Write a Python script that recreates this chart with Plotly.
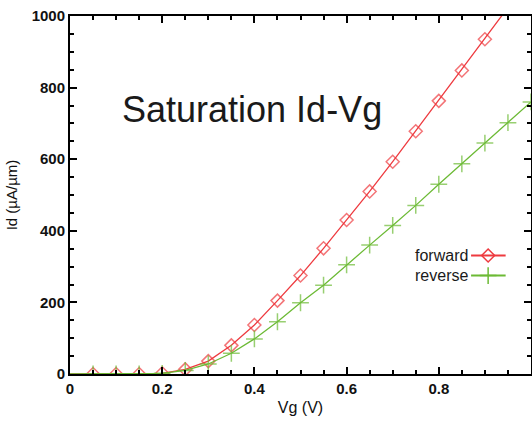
import plotly.graph_objects as go

vg = [0.0, 0.05, 0.10, 0.15, 0.20, 0.25, 0.30, 0.35, 0.40, 0.45, 0.50,
      0.55, 0.60, 0.65, 0.70, 0.75, 0.80, 0.85, 0.90, 0.95, 1.00]
forward = [0, 0, 0, 0, 2, 13, 36, 80, 137, 205, 275, 351, 430, 510, 593,
           678, 763, 848, 935, 1022, 1110]
reverse = [0, 0, 0, 0, 2, 10, 28, 58, 98, 146, 199, 248, 305, 360, 415,
           471, 530, 587, 645, 702, 760]

RED = "#ee3a3f"
GREEN = "#6cba35"
FONT = "Liberation Sans, Arial, sans-serif"

# hide the marker at Vg = 0 (the reference shows only the line there)
red_sizes = [0] + [10] * (len(vg) - 1)
green_sizes = [0] + [12] * (len(vg) - 1)

fig = go.Figure()
fig.add_trace(go.Scatter(
    x=vg, y=forward, mode="lines+markers", name="forward",
    line=dict(color=RED, width=1.3),
    marker=dict(symbol="diamond-open", size=red_sizes, color=RED, line=dict(width=1.5, color=RED)),
    showlegend=False))
fig.add_trace(go.Scatter(
    x=vg, y=reverse, mode="lines+markers", name="reverse",
    line=dict(color=GREEN, width=1.3),
    marker=dict(symbol="cross-thin-open", size=green_sizes, color=GREEN, line=dict(width=1.5, color=GREEN)),
    showlegend=False))

axis_common = dict(
    showline=True, linecolor="black", linewidth=2, mirror="ticks",
    ticks="inside", ticklen=7, tickwidth=2, tickcolor="black",
    showgrid=False, zeroline=False,
    tickfont=dict(family=FONT, size=15, color="#111111", weight="bold"),
)
fig.update_xaxes(range=[0, 1], dtick=0.2, tickformat="~g",
                 minor=dict(dtick=0.05, ticks="inside", ticklen=4, tickwidth=1.5, tickcolor="black"),
                 title=dict(text="Vg (V)", font=dict(family=FONT, size=16, color="#111111"), standoff=6),
                 automargin=False, **axis_common)
fig.update_yaxes(range=[0, 1000], dtick=200,
                 minor=dict(dtick=50, ticks="inside", ticklen=4, tickwidth=1.5, tickcolor="black"),
                 title=dict(text="Id (µA/µm)", font=dict(family=FONT, size=15, color="#111111"), standoff=10),
                 automargin=False, **axis_common)

# Chart title inside the plot area
fig.add_annotation(text="Saturation Id-Vg", xref="paper", yref="paper",
                   x=0.108, y=0.74, xanchor="left", yanchor="middle", showarrow=False,
                   font=dict(family=FONT, size=36, color="#1a1a1a"))

# Custom legend (text on the left, sample on the right)
legend_items = [("forward", RED, 0.331), ("reverse", GREEN, 0.275)]
for label, col, yp in legend_items:
    fig.add_annotation(text=label, xref="paper", yref="paper", x=0.867, y=yp,
                       xanchor="right", yanchor="middle", showarrow=False,
                       font=dict(family=FONT, size=16, color="#1a1a1a"))
    fig.add_shape(type="line", xref="paper", yref="paper", x0=0.87, x1=0.945, y0=yp, y1=yp,
                  line=dict(color=col, width=2))
fig.add_trace(go.Scatter(
    x=[0.907], y=[0.331], xaxis="x2", yaxis="y2", mode="markers", showlegend=False,
    marker=dict(symbol="diamond-open", size=10, color=RED, line=dict(width=1.5, color=RED)),
    hoverinfo="skip"))
fig.add_trace(go.Scatter(
    x=[0.907], y=[0.275], xaxis="x2", yaxis="y2", mode="markers", showlegend=False,
    marker=dict(symbol="cross-thin-open", size=12, color=GREEN, line=dict(width=1.5, color=GREEN)),
    hoverinfo="skip"))

fig.update_layout(
    width=532, height=426,
    margin=dict(l=70, r=1, t=16, b=52),
    paper_bgcolor="white", plot_bgcolor="white",
    xaxis2=dict(range=[0, 1], overlaying="x", visible=False, fixedrange=True),
    yaxis2=dict(range=[0, 1], overlaying="y", visible=False, fixedrange=True),
    font=dict(family=FONT),
)

fig.write_html("out.html", config={"displayModeBar": False},
               post_script="document.body.style.margin='0';document.body.style.overflow='hidden';")
